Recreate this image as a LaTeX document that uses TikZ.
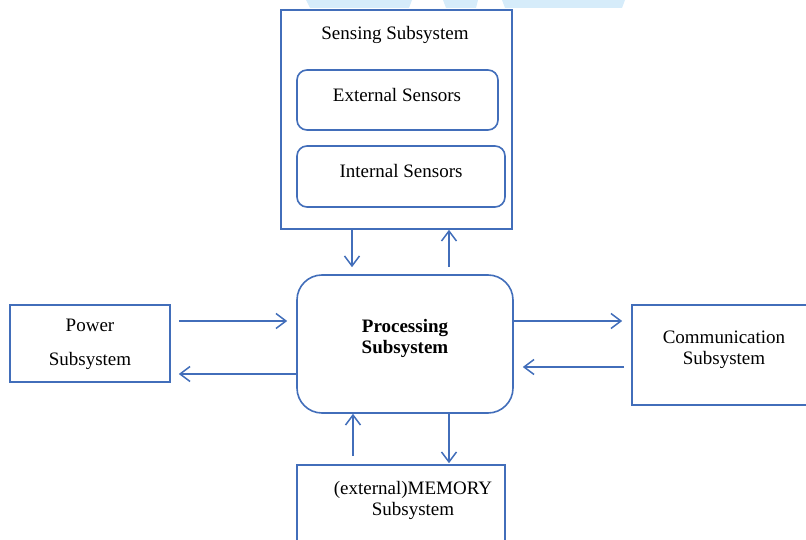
\documentclass[tikz,border=0pt]{standalone}
\usepackage{fontspec}
\setmainfont{Liberation Serif}
\usetikzlibrary{arrows.meta}
\definecolor{lblue}{RGB}{66,110,186}
\definecolor{wmark}{RGB}{214,236,250}
\tikzset{
  box/.style={draw=lblue, line width=1.6pt, fill=white, inner sep=0pt},
  rbox/.style={box, rounded corners=#1},
  txt/.style={inner sep=0pt, font=\fontsize{19}{21}\selectfont, align=center},
  arr/.style={draw=lblue, line width=1.5pt, -{Straight Barb[length=10pt,width=15pt]}}
}
\begin{document}
\begin{tikzpicture}[x=1pt,y=-1pt]
\useasboundingbox (0,0) rectangle (806,540);
\clip (0,0) rectangle (806,540);
% faint watermark strip
\fill[wmark] (306,0) -- (412,0) -- (409,8) -- (310,8) -- cycle;
\fill[wmark] (443,0) -- (478,0) -- (476,8) -- (446,8) -- cycle;
\fill[wmark] (502,0) -- (625,0) -- (622,8) -- (505,8) -- cycle;

% sensing subsystem
\node[box, minimum width=231pt, minimum height=219pt] (sens) at (396.5,119.5) {};
\node[txt] (senst) at (395,35) {Sensing Subsystem};
\node[rbox=10pt, minimum width=201pt, minimum height=60pt] (ext) at (397.5,100) {};
\node[txt] (extt) at (397,95) {External Sensors};
\node[rbox=10pt, minimum width=208pt, minimum height=61pt] (int) at (401,176.5) {};
\node[txt] (intt) at (401,171) {Internal Sensors};

% processing
\node[rbox=25pt, minimum width=216pt, minimum height=138pt] (proc) at (405,344) {};
\node[txt, font=\fontsize{19}{21}\selectfont\bfseries] (proct) at (405,338) {Processing\\Subsystem};

% power
\node[box, minimum width=160pt, minimum height=77pt] (pow) at (90,343.5) {};
\node[txt] (powt1) at (90,325.5) {Power};
\node[txt] (powt2) at (90,361) {Subsystem};

% communication
\node[box, minimum width=176pt, minimum height=100pt] (comm) at (720,355) {};
\node[txt] (commt) at (724,350) {Communication\\Subsystem};

% memory
\node[box, minimum width=208pt, minimum height=80pt] (mem) at (401,505) {};
\node[txt] (memt) at (413,500) {(external)MEMORY\\Subsystem};

% connectors
\draw[arr] ([shift={(-44.5,0)}]sens.south) -- ([shift={(-53,-7)}]proc.north);
\draw[arr] ([shift={(44,-7)}]proc.north) -- ([shift={(52.5,0)}]sens.south);
\draw[arr] ([shift={(8,-22.5)}]pow.east) -- ([shift={(-9,-23)}]proc.west);
\draw[arr] ([shift={(0,30)}]proc.west) -- ([shift={(8,30.5)}]pow.east);
\draw[arr] ([shift={(0,-23)}]proc.east) -- ([shift={(-9,-34)}]comm.west);
\draw[arr] ([shift={(-7,12)}]comm.west) -- ([shift={(9,23)}]proc.east);
\draw[arr] ([shift={(-48,-8)}]mem.north) -- ([shift={(-52,0)}]proc.south);
\draw[arr] ([shift={(44,0)}]proc.south) -- ([shift={(48,-1)}]mem.north);
\end{tikzpicture}
\end{document}
